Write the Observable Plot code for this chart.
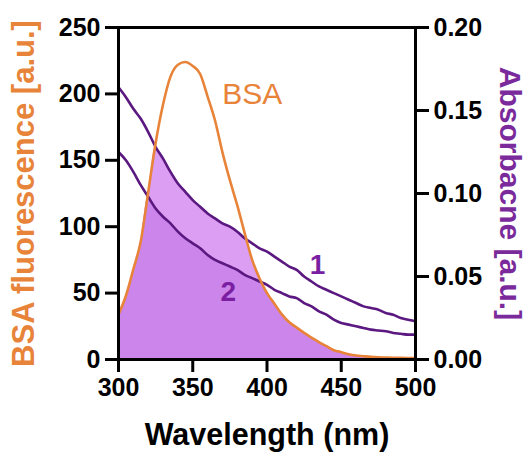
<!DOCTYPE html>
<html>
<head>
<meta charset="utf-8">
<script src="https://cdn.jsdelivr.net/npm/d3@7"></script>
<script src="https://cdn.jsdelivr.net/npm/@observablehq/plot@0.6"></script>
<style>
  html, body { margin: 0; padding: 0; background: #fff; }
  #chart svg { display: block; }
</style>
</head>
<body>
<div id="chart"></div>
<script>
// Wavelength grid (nm)
const wavelength = [300,305,310,315,320,325,330,335,340,345,350,355,360,365,370,375,380,385,390,395,400,405,410,415,420,425,430,435,440,445,450,455,460,465,470,475,480,485,490,495,500];
// BSA fluorescence [a.u.] (left axis)
const bsa = [34,48,68,89,126,163,192,213,222,224,221,215,198,180,156,135,116,95,75,61,50,42,34,28,24,20,16.5,13,10,7,5.5,4,3,2.5,2,1.7,1.5,1.3,1.2,1.1,1];
// Absorbance curve 1 [a.u.] (right axis)
const abs1 = [0.164,0.158,0.151,0.145,0.137,0.128,0.121,0.113,0.106,0.101,0.096,0.092,0.088,0.085,0.082,0.080,0.077,0.073,0.070,0.067,0.065,0.062,0.059,0.056,0.054,0.050,0.047,0.044,0.042,0.040,0.038,0.036,0.034,0.032,0.031,0.030,0.028,0.027,0.025,0.024,0.023];
// Absorbance curve 2 [a.u.] (right axis)
const abs2 = [0.125,0.120,0.113,0.105,0.098,0.091,0.086,0.082,0.077,0.073,0.070,0.067,0.063,0.060,0.058,0.056,0.054,0.051,0.049,0.047,0.045,0.042,0.040,0.038,0.037,0.034,0.032,0.029,0.027,0.024,0.022,0.021,0.020,0.019,0.018,0.0175,0.017,0.016,0.0155,0.015,0.015];

const xTicks = [300,350,400,450,500];
const leftTicks = [0,50,100,150,200,250];
const rightTicks = [0,0.05,0.10,0.15,0.20];
const leftMax = 250, rightMax = 0.20;
const k = leftMax / rightMax; // absorbance -> left-axis units

const bsaLabel = [{x: 390, y: 200, text: "BSA"}];
const curveLabels = [{x: 434, y: 71, text: "1"}, {x: 374, y: 51, text: "2"}];

const data = wavelength.map((w, i) => {
  const a1 = abs1[i] * k, a2 = abs2[i] * k;
  return {w, bsa: bsa[i], a1, a2, low: Math.min(bsa[i], a2), high: Math.min(bsa[i], a1)};
});

const orange = "#e8843a";
const purpleLine = "#5a1880";
const purpleText = "#7b2a9b";
const font = "'Liberation Sans', Arial, Helvetica, sans-serif";

const plot = Plot.plot({
  width: 528,
  height: 452,
  marginLeft: 118,
  marginRight: 113,
  marginTop: 27,
  marginBottom: 93,
  style: {fontFamily: font, background: "#fff", color: "#000", overflow: "visible"},
  x: {domain: [300, 500]},
  y: {domain: [0, leftMax]},
  marks: [
    Plot.areaY(data, {x: "w", y1: 0, y2: "low", fill: "#cc85ea", curve: "monotone-x"}),
    Plot.areaY(data, {x: "w", y1: "low", y2: "high", fill: "#dc9ef2", curve: "monotone-x"}),
    Plot.line(data, {x: "w", y: "a1", stroke: purpleLine, strokeWidth: 2.6, curve: "monotone-x"}),
    Plot.line(data, {x: "w", y: "a2", stroke: purpleLine, strokeWidth: 2.6, curve: "monotone-x"}),
    Plot.line(data, {x: "w", y: "bsa", stroke: orange, strokeWidth: 2.6, curve: "monotone-x"}),
    Plot.text(bsaLabel, {x: "x", y: "y", text: "text", fill: orange, fontSize: 30, textAnchor: "middle", lineAnchor: "middle"}),
    Plot.text(curveLabels, {x: "x", y: "y", text: "text", fill: "#7b1fa2", fontWeight: "bold", fontSize: 28, textAnchor: "middle", lineAnchor: "middle"}),
    Plot.frame({stroke: "#000", strokeWidth: 3}),
    Plot.axisY(leftTicks, {anchor: "left", tickSize: 13, tickPadding: 5, strokeWidth: 3, fontSize: 25, fontWeight: "bold", label: null}),
    Plot.axisY(rightTicks.map(v => v * k), {anchor: "right", tickSize: 13, tickPadding: 5, strokeWidth: 3, fontSize: 25, fontWeight: "bold", label: null, tickFormat: d => (d / k).toFixed(2)}),
    Plot.axisX(xTicks, {anchor: "bottom", tickSize: 13, tickPadding: 6, strokeWidth: 3, fontSize: 25, fontWeight: "bold", label: null}),
    Plot.text(["Wavelength (nm)"], {frameAnchor: "bottom", dy: 85, fontSize: 30.5, fontWeight: "bold", fill: "#000", textAnchor: "middle", lineAnchor: "bottom"}),
    Plot.text(["BSA fluorescence [a.u.]"], {frameAnchor: "left", dx: -94, rotate: -90, fontSize: 31, fontWeight: "bold", fill: orange, textAnchor: "middle", lineAnchor: "middle"}),
    Plot.text(["Absorbacne [a.u.]"], {frameAnchor: "right", dx: 94, rotate: 90, fontSize: 30, fontWeight: "bold", fill: purpleText, textAnchor: "middle", lineAnchor: "middle"})
  ]
});
document.getElementById("chart").appendChild(plot);
</script>
</body>
</html>
